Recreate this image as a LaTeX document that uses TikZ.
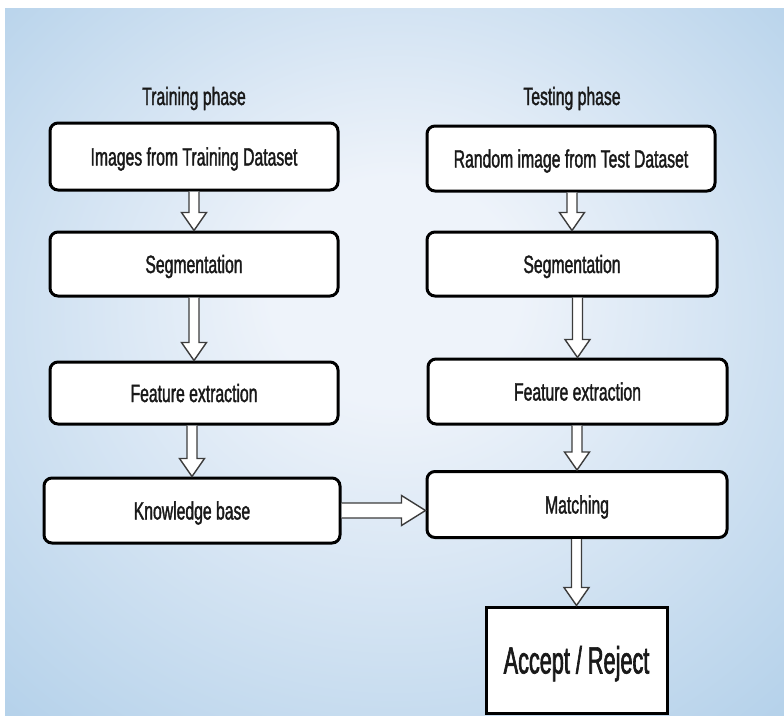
\documentclass[tikz,border=0pt]{standalone}
\usepackage{fontspec}
\newfontfamily\boxfont{Liberation Sans}[FakeStretch=0.63,FakeBold=1.4]
\newfontfamily\bigboxfont{Liberation Sans}[FakeStretch=0.57,FakeBold=1.6]
\usetikzlibrary{calc}
\definecolor{bgin}{RGB}{238,243,250}
\definecolor{bgout}{RGB}{170,203,231}
\definecolor{ink}{RGB}{25,25,25}
\pgfdeclareradialshading{bgglow}{\pgfpoint{0bp}{6bp}}{color(0bp)=(bgin); color(8bp)=(bgin); color(42bp)=(bgout); color(50bp)=(bgout)}
\def\blockdown(#1)(#2){\draw[blockarrow] let \p1=(#1.south), \p2=(#2.north) in (\x2-5pt,\y1) -- (\x2-5pt,\y2+18pt) -- (\x2-12.5pt,\y2+18pt) -- (\x2,\y2) -- (\x2+12.5pt,\y2+18pt) -- (\x2+5pt,\y2+18pt) -- (\x2+5pt,\y1);}
\def\blockright(#1)(#2){\draw[blockarrow] let \p1=(#1.east), \p2=(#2.west) in (\x1,\y1+7.5pt) -- (\x2-24pt,\y1+7.5pt) -- (\x2-24pt,\y1+15pt) -- (\x2,\y1) -- (\x2-24pt,\y1-15pt) -- (\x2-24pt,\y1-7.5pt) -- (\x1,\y1-7.5pt);}

\begin{document}
\begin{tikzpicture}[x=1pt,y=-1pt,
	stage/.style={draw=black, line width=3pt, rounded corners=8pt, fill=white, text=ink, inner sep=0pt,
		font={\boxfont\fontsize{25}{30}\selectfont}, text height=18pt, text depth=0pt},
	phase/.style={text=ink, anchor=base, font={\boxfont\fontsize{25}{30}\selectfont}},
	blockarrow/.style={draw=ink!85, line width=1.4pt, fill=white, line join=miter}]
	%%%%% BACKGROUND %%%%%
	\fill[white] (0,0) rectangle (784,715);
	\shade[shading=bgglow] (5,8) rectangle (784,715);
	
	%%%%% TRAINING %%%%%
	\node[phase] (trainphase) at (194,105) {Training phase};
	\node[stage, minimum width=288pt, minimum height=67pt] (imgtrain) at (194,156.5) {Images from Training Dataset};
	\node[stage, minimum width=288pt, minimum height=64pt] (segtrain) at (194,264) {Segmentation};
	\node[stage, minimum width=288pt, minimum height=62pt] (feattrain) at (194,393) {Feature extraction};
	\node[stage, minimum width=296pt, minimum height=65pt] (knowbase) at (192,510.5) {Knowledge base};
	
	%%%%% TESTING %%%%%
	\node[phase] (testphase) at (572,105) {Testing phase};
	\node[stage, minimum width=288pt, minimum height=65pt] (imgtest) at (571,158.5) {Random image from Test Dataset};
	\node[stage, minimum width=290pt, minimum height=64pt] (segtest) at (572,264) {Segmentation};
	\node[stage, minimum width=299pt, minimum height=65pt] (feattest) at (577.5,391.5) {Feature extraction};
	\node[stage, minimum width=300pt, minimum height=66pt] (matching) at (577,504.5) {Matching};
	\node[stage, rounded corners=0pt, minimum width=181pt, minimum height=106pt, text height=27pt,
		font={\bigboxfont\fontsize{38}{42}\selectfont}] (decision) at (576.5,660) {Accept / Reject};
	
	%%%%% ARROWS %%%%%
	\blockdown(imgtrain)(segtrain)
	\blockdown(segtrain)(feattrain)
	\blockdown(feattrain)(knowbase)
	\blockdown(imgtest)(segtest)
	\blockdown(segtest)(feattest)
	\blockdown(feattest)(matching)
	\blockdown(matching)(decision)
	\blockright(knowbase)(matching)
\end{tikzpicture}
\end{document}
